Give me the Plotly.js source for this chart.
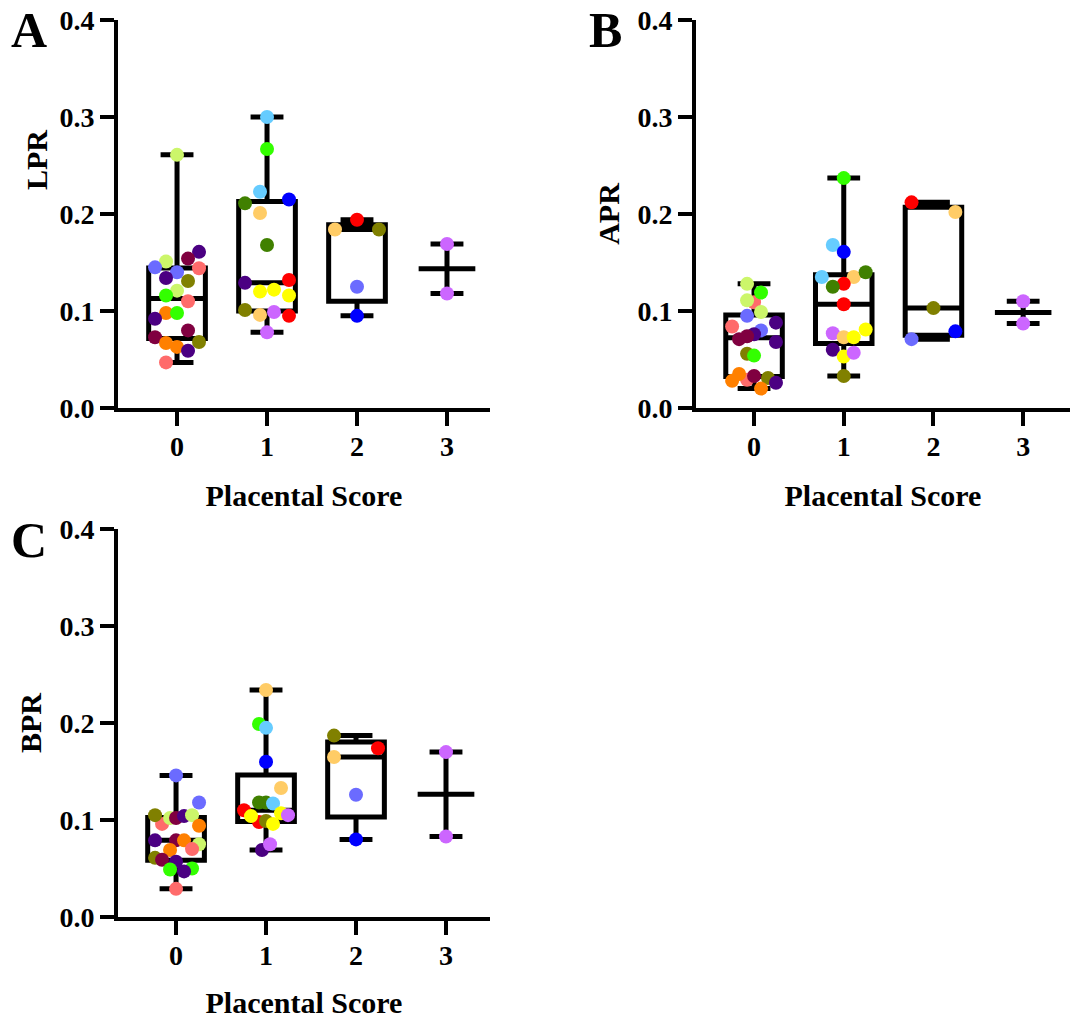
<!DOCTYPE html>
<html>
<head>
<meta charset="utf-8">
<script src="https://cdn.plot.ly/plotly-3.0.1.min.js"></script>
<style>html,body{margin:0;padding:0;background:#fff;}</style>
</head>
<body>
<div id="chart" style="width:1075px;height:1019px;"></div>
<script>
// ---------------- DATA ----------------
const categories = [0, 1, 2, 3];
const tickLabels = ['0', '1', '2', '3'];
const yTicks = [0.0, 0.1, 0.2, 0.3, 0.4];
const xTitle = 'Placental Score';
const yTitles = ['LPR', 'APR', 'BPR'];
const panelLetters = ['A', 'B', 'C'];

// Panel A: LPR
const lprScore0 = [0.261,0.161,0.154,0.151,0.145,0.144,0.140,0.134,0.131,0.121,0.116,0.110,0.098,0.098,0.092,0.080,0.073,0.067,0.063,0.068,0.059,0.047];
const lprScore1 = [0.300,0.267,0.223,0.211,0.215,0.201,0.168,0.129,0.132,0.120,0.122,0.116,0.101,0.096,0.099,0.095,0.078];
const lprScore2 = [0.194,0.184,0.184,0.125,0.095];
const lprScore3 = [0.169,0.118];

// Panel B: APR
const aprScore0 = [0.109,0.128,0.119,0.111,0.099,0.095,0.084,0.088,0.080,0.076,0.071,0.074,0.068,0.056,0.054,0.029,0.028,0.035,0.033,0.031,0.026,0.020];
const aprScore1 = [0.237,0.168,0.161,0.135,0.135,0.140,0.128,0.125,0.107,0.077,0.073,0.073,0.081,0.060,0.053,0.057,0.033];
const aprScore2 = [0.212,0.202,0.103,0.079,0.071];
const aprScore3 = [0.110,0.087];

// Panel C: BPR
const bprScore0 = [0.146,0.118,0.096,0.105,0.102,0.102,0.104,0.105,0.094,0.079,0.079,0.079,0.075,0.070,0.069,0.061,0.059,0.057,0.049,0.050,0.047,0.029];
const bprScore1 = [0.234,0.199,0.195,0.160,0.133,0.118,0.118,0.117,0.110,0.098,0.107,0.104,0.099,0.096,0.105,0.069,0.075];
const bprScore2 = [0.187,0.174,0.165,0.126,0.080];
const bprScore3 = [0.170,0.083];

// ---------------- STYLE (point colours and scatter offsets, px) ----------------
const LY='#ccf66a', IN='#4b0082', MA='#800040', PW='#6b6bff', SA='#ff6b6b', OL='#808000',
      GR='#33ff00', OR='#ff8000', LB='#66ccff', DG='#408000', BL='#0000ff', LO='#ffcc66',
      RD='#ff0000', YE='#ffff00', VI='#cc66ff';

const lprCol0 = [LY,IN,MA,LY,PW,SA,PW,IN,OL,LY,GR,SA,OR,GR,IN,MA,MA,OR,OR,OL,IN,SA];
const lprOff0 = [0,22,11,-11,-22,22,0,-11,11,0,-11,11,-11,0,-22,11,-22,-11,0,22,11,-11];
const lprCol1 = [LB,GR,LB,DG,BL,LO,DG,IN,RD,YE,YE,YE,OL,LO,VI,RD,VI];
const lprOff1 = [0,0,-7,-22,22,-7,0,-22,22,-7,7,22,-22,-7,7,22,0];
const lprCol2 = [RD,LO,OL,PW,BL];
const lprOff2 = [0,-22,22,0,0];
const lprCol3 = [VI,VI];
const lprOff3 = [0,0];

const aprCol0 = [SA,LY,GR,LY,LY,PW,SA,IN,PW,IN,MA,MA,IN,OL,GR,SA,OR,OR,MA,OL,IN,OR];
const aprOff0 = [0,-7,7,-7,7,-7,-22,22,7,0,-15,-7,22,-7,0,-7,-22,-15,0,14,22,7];
const aprCol1 = [GR,LB,BL,LB,LO,DG,RD,DG,RD,VI,LO,YE,YE,IN,YE,VI,OL];
const aprOff1 = [0,-11,0,-22,10,22,0,-11,0,-11,0,10,22,-11,0,10,0];
const aprCol2 = [RD,LO,OL,BL,PW];
const aprOff2 = [-22,22,0,22,-22];
const aprCol3 = [VI,VI];
const aprOff3 = [0,0];

const bprCol0 = [PW,PW,SA,OL,LY,MA,IN,LY,OR,IN,MA,OR,LY,SA,OR,OL,MA,IN,GR,GR,IN,SA];
const bprOff0 = [0,23,-14,-21,-6,0,8,16,23,-21,0,8,23,16,-6,-21,-14,0,-6,16,8,0];
const bprCol1 = [LO,GR,LB,BL,LO,DG,DG,LB,RD,RD,YE,YE,OL,YE,VI,IN,VI];
const bprOff1 = [0,-7,0,0,15,-7,0,7,-22,-7,15,-15,0,7,22,-4,4];
const bprCol2 = [OL,RD,LO,PW,BL];
const bprOff2 = [-22,22,-22,0,0];
const bprCol3 = [VI,VI];
const bprOff3 = [0,0];

// ---------------- helpers ----------------
const PX_PER_CAT = 90;
const FONT = 'Liberation Serif, Times New Roman, serif';

function pct(s, p) {            // (n+1) percentile method
  const n = s.length, pos = p * (n + 1);
  if (pos <= 1) return s[0];
  if (pos >= n) return s[n - 1];
  const lo = Math.floor(pos), f = pos - lo;
  return s[lo - 1] + f * (s[lo] - s[lo - 1]);
}
function stats(v) {
  const s = v.slice().sort((a, b) => a - b);
  const med = pct(s, 0.5);
  if (s.length < 3) return {q1: med, med: med, q3: med, lo: s[0], hi: s[s.length - 1]};
  return {q1: pct(s, 0.25), med: med, q3: pct(s, 0.75), lo: s[0], hi: s[s.length - 1]};
}

function panelTraces(groups, cols, offs, xa, ya) {
  const st = groups.map(stats);
  const box = {
    type: 'box', xaxis: xa, yaxis: ya, x: categories,
    q1: st.map(s => s.q1), median: st.map(s => s.med), q3: st.map(s => s.q3),
    lowerfence: st.map(s => s.lo), upperfence: st.map(s => s.hi),
    width: 0.63, whiskerwidth: 0.58, boxpoints: false,
    line: {color: '#000', width: 5}, fillcolor: 'rgba(0,0,0,0)', hoverinfo: 'skip'
  };
  const xs = [], ys = [], cs = [];
  groups.forEach((g, gi) => g.forEach((v, i) => {
    xs.push(categories[gi] + offs[gi][i] / PX_PER_CAT);
    ys.push(v); cs.push(cols[gi][i]);
  }));
  const pts = {
    type: 'scatter', mode: 'markers', xaxis: xa, yaxis: ya, x: xs, y: ys,
    marker: {color: cs, size: 14, line: {width: 0}}, hoverinfo: 'y'
  };
  return [box, pts];
}

const data = [].concat(
  panelTraces([lprScore0, lprScore1, lprScore2, lprScore3],
              [lprCol0, lprCol1, lprCol2, lprCol3],
              [lprOff0, lprOff1, lprOff2, lprOff3], 'x', 'y'),
  panelTraces([aprScore0, aprScore1, aprScore2, aprScore3],
              [aprCol0, aprCol1, aprCol2, aprCol3],
              [aprOff0, aprOff1, aprOff2, aprOff3], 'x2', 'y2'),
  panelTraces([bprScore0, bprScore1, bprScore2, bprScore3],
              [bprCol0, bprCol1, bprCol2, bprCol3],
              [bprOff0, bprOff1, bprOff2, bprOff3], 'x3', 'y3')
);

const W = 1075, H = 1019;
const titleFont = {family: FONT, size: 30, color: '#000', weight: 700};
function xAxis(l, r, lo, hi, anchor) {
  return {
    domain: [l / W, r / W], range: [lo, hi], anchor: anchor,
    tickvals: categories, ticktext: tickLabels,
    showline: true, linecolor: '#000', linewidth: 4,
    ticks: 'outside', ticklen: 14, tickwidth: 4, tickcolor: '#000',
    ticklabelstandoff: -4,
    showgrid: false, zeroline: false, fixedrange: true,
    tickfont: {family: FONT, size: 28, color: '#000', weight: 700},
    title: {text: xTitle, font: titleFont, standoff: 25}
  };
}
function yAxis(top, bottom, anchor, label) {
  return {
    domain: [1 - bottom / H, 1 - top / H], range: [0, 0.4], anchor: anchor,
    tickvals: yTicks, tickformat: '.1f',
    showline: true, linecolor: '#000', linewidth: 4,
    ticks: 'outside', ticklen: 14, tickwidth: 4, tickcolor: '#000',
    showgrid: false, zeroline: false, fixedrange: true,
    tickfont: {family: FONT, size: 28, color: '#000', weight: 700},
    title: {text: label, font: titleFont, standoff: 10}
  };
}

const letterFont = {family: FONT, size: 50, color: '#000', weight: 700};
const layout = {
  width: W, height: H, margin: {l: 0, r: 0, t: 0, b: 0},
  paper_bgcolor: '#fff', plot_bgcolor: 'rgba(0,0,0,0)', showlegend: false,
  xaxis: xAxis(118, 490, -0.656, 3.478, 'y'),
  yaxis: yAxis(20, 408, 'x', ''),
  xaxis2: xAxis(696, 1070, -0.647, 3.522, 'y2'),
  yaxis2: yAxis(20, 408, 'x2', yTitles[1]),
  xaxis3: xAxis(118, 490, -0.645, 3.489, 'y3'),
  yaxis3: yAxis(529, 917, 'x3', yTitles[2]),
  annotations: [
    {text: panelLetters[0], x: 29 / W, y: 1 - 30 / H, xref: 'paper', yref: 'paper', xanchor: 'center', yanchor: 'middle', showarrow: false, font: letterFont},
    {text: panelLetters[1], x: 605 / W, y: 1 - 30 / H, xref: 'paper', yref: 'paper', xanchor: 'center', yanchor: 'middle', showarrow: false, font: letterFont},
    {text: panelLetters[2], x: 29 / W, y: 1 - 540 / H, xref: 'paper', yref: 'paper', xanchor: 'center', yanchor: 'middle', showarrow: false, font: letterFont},
    // LPR title sits above the axis centre in the reference
    {text: yTitles[0], x: 36 / W, y: 1 - 160 / H, xref: 'paper', yref: 'paper', xanchor: 'center', yanchor: 'middle', textangle: -90, showarrow: false, font: titleFont}
  ]
};

Plotly.newPlot('chart', data, layout, {displayModeBar: false, staticPlot: true});
</script>
</body>
</html>
